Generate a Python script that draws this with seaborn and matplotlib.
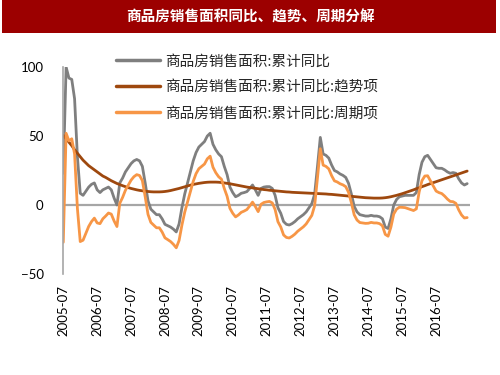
import numpy as np
import pandas as pd
import matplotlib
matplotlib.use("Agg")
import matplotlib.pyplot as plt
import seaborn as sns
from matplotlib.patches import Rectangle

# ================================================================================
# Data (monthly, 2005-07 .. 2017-06)
# ================================================================================
months = pd.period_range("2005-07", periods=144, freq="M").strftime("%Y-%m").tolist()

yoy = [
    23, 100, 92, 91, 77, 35, 8.5, 7, 10, 13, 15, 16,
    11, 9, 11, 12, 13, 11, 5, 0, 16, 19.5, 24, 27,
    30, 32, 33, 32, 28, 16, 3, -3, -5, -7, -7, -10,
    -14, -15, -16, -17.5, -19.5, -13.7, -2, 8, 16, 24, 32, 38,
    42, 44, 46, 50, 52, 44, 40, 37, 35, 28, 22, 13,
    9, 6, 7, 8.5, 9, 9.7, 12, 14.5, 11, 7, 12, 13,
    13.3, 13.3, 12, 7, -2, -6, -12, -14, -14.5, -13.5, -12, -10,
    -8.5, -7, -5, -2, 1, 8, 28, 49, 37, 36, 34, 29,
    25, 24, 22.5, 21.5, 20, 15.7, 8, -1, -5, -7, -7.5, -8,
    -8, -7.5, -8, -8, -8.5, -10, -16, -17, -10, 0, 4, 6,
    6.5, 7, 7, 7, 7, 9, 22, 31, 35, 36, 33, 30,
    27, 26.6, 26.6, 25.5, 24, 23, 23.5, 23, 19, 16, 14.5, 15.5,
]

trend = [
    50.5, 48, 45.5, 43, 40, 37.5, 35, 32.5, 30.5, 28.5, 27, 25.5,
    24, 22.5, 21, 20, 18.8, 17.6, 16.6, 15.6, 14.8, 14, 13.3, 12.6,
    12, 11.5, 11, 10.6, 10.3, 10, 9.8, 9.6, 9.5, 9.5, 9.5, 9.6,
    9.8, 10.1, 10.5, 11, 11.5, 12, 12.6, 13.2, 13.8, 14.4, 14.9, 15.3,
    15.7, 16, 16.3, 16.5, 16.6, 16.6, 16.6, 16.5, 16.3, 16, 15.7, 15.4,
    15, 14.6, 14.2, 13.8, 13.4, 13, 12.7, 12.4, 12.1, 11.8, 11.5, 11.2,
    11, 10.7, 10.5, 10.3, 10.1, 9.9, 9.7, 9.5, 9.4, 9.2, 9.1, 9,
    8.9, 8.8, 8.7, 8.6, 8.5, 8.4, 8.3, 8.2, 8.1, 8, 7.8, 7.7,
    7.5, 7.3, 7.1, 6.9, 6.7, 6.5, 6.3, 6.1, 5.9, 5.7, 5.5, 5.3,
    5.2, 5.1, 5, 5, 5, 5.1, 5.3, 5.6, 6, 6.5, 7, 7.6,
    8.2, 8.9, 9.6, 10.3, 11, 11.8, 12.5, 13.3, 14, 14.8, 15.5, 16.2,
    16.9, 17.6, 18.3, 19, 19.7, 20.4, 21.1, 21.8, 22.5, 23.2, 23.9, 24.6,
]

cycle = [
    -27, 52, 46.5, 48, 37, -2.5, -26.5, -25.5, -20.5, -15.5, -12, -9.5,
    -13, -13.5, -10, -8, -5.8, -6.6, -11.6, -15.6, 1.2, 5.5, 10.7, 14.4,
    18, 20.5, 22, 21.4, 17.7, 6, -6.8, -12.6, -14.5, -16.5, -16.5, -19.6,
    -23.8, -25.1, -26.5, -28.5, -31, -25.7, -14.6, -5.2, 2.2, 9.6, 17.1, 22.7,
    26.3, 28, 29.7, 33.5, 35.4, 27.4, 23.4, 20.5, 18.7, 12, 6.3, -2.4,
    -6, -8.6, -7.2, -5.3, -4.4, -3.3, -0.7, 2.1, -1.1, -4.8, 0.5, 1.8,
    2.3, 2.6, 1.5, -3.3, -12.1, -15.9, -21.7, -23.5, -23.9, -22.7, -21.1, -19,
    -17.4, -15.8, -13.7, -10.6, -7.5, -0.4, 19.7, 40.8, 28.9, 28, 26.2, 21.3,
    17.5, 16.7, 15.4, 14.6, 13.3, 9.2, 1.7, -7.1, -10.9, -12.7, -13, -13.3,
    -13.2, -12.6, -13, -13, -13.5, -15.1, -21.3, -22.6, -16, -6.5, -3, -1.6,
    -1.7, -1.9, -2.6, -3.3, -4, -2.8, 9.5, 17.7, 21, 21.2, 17.5, 13.8,
    10.1, 9, 8.3, 6.5, 4.3, 2.6, 2.4, 1.2, -3.5, -7.2, -9.4, -9.1,
]

labels = ["商品房销售面积:累计同比", "商品房销售面积:累计同比:趋势项", "商品房销售面积:累计同比:周期项"]
colors = ["#7F7F7F", "#9E480E", "#F79646"]
title  = "商品房销售面积同比、趋势、周期分解"

# ================================================================================
# Plot
# ================================================================================
sns.set_style("white")
plt.rcParams["font.family"] = ["Noto Sans CJK SC", "DejaVu Sans"]

df = pd.DataFrame({"idx": range(len(months)), labels[0]: yoy, labels[1]: trend, labels[2]: cycle})
long = df.melt(id_vars="idx", var_name="series", value_name="value")

fig = plt.figure(figsize=(5, 3.75), dpi=100)
ax  = fig.add_axes([0.126, 0.2693, 0.814, 0.552])

# title bar
fig.patches.append(Rectangle((0.004, 0.912), 0.988, 0.088, transform=fig.transFigure,
                             facecolor="#9C0000", edgecolor="none", zorder=0))
fig.text(0.5, 0.956, title, color="white", fontsize=10.5, fontweight="bold",
         ha="center", va="center")

ax.axhline(0, color="#A6A6A6", lw=1.6, zorder=1)
sns.lineplot(data=long, x="idx", y="value", hue="series", palette=colors,
             hue_order=labels, lw=2.0, ax=ax, legend=True, zorder=3)

ax.set_xlim(-0.1, 144)
ax.set_ylim(-50, 100)
ax.set_yticks([-50, 0, 50, 100])
ax.set_xticks(range(0, 144, 12))
ax.set_xticklabels(months[::12], rotation=90)
ax.set_xlabel("")
ax.set_ylabel("")
for lab in ax.get_xticklabels() + ax.get_yticklabels():
    lab.set_family(["Lato", "DejaVu Sans"])
    lab.set_fontsize(9.5)
    lab.set_color("#000000")
ax.tick_params(axis="y", length=0, pad=14)
ax.tick_params(axis="x", length=0, pad=8)

for s in ["top", "right", "bottom"]:
    ax.spines[s].set_visible(False)
ax.spines["left"].set_color("#A6A6A6")
ax.spines["left"].set_linewidth(1.2)
ax.spines["left"].set_zorder(4)

leg = ax.legend(loc="upper left", bbox_to_anchor=(0.232, 0.855), bbox_transform=fig.transFigure,
                frameon=False, fontsize=10.5, handlelength=3.0, handletextpad=0.35,
                labelspacing=0.82, borderaxespad=0, borderpad=0)
for h in leg.get_lines():
    h.set_linewidth(2.5)
for t in leg.get_texts():
    t.set_color("#262626")

fig.savefig("out.png", dpi=100)
